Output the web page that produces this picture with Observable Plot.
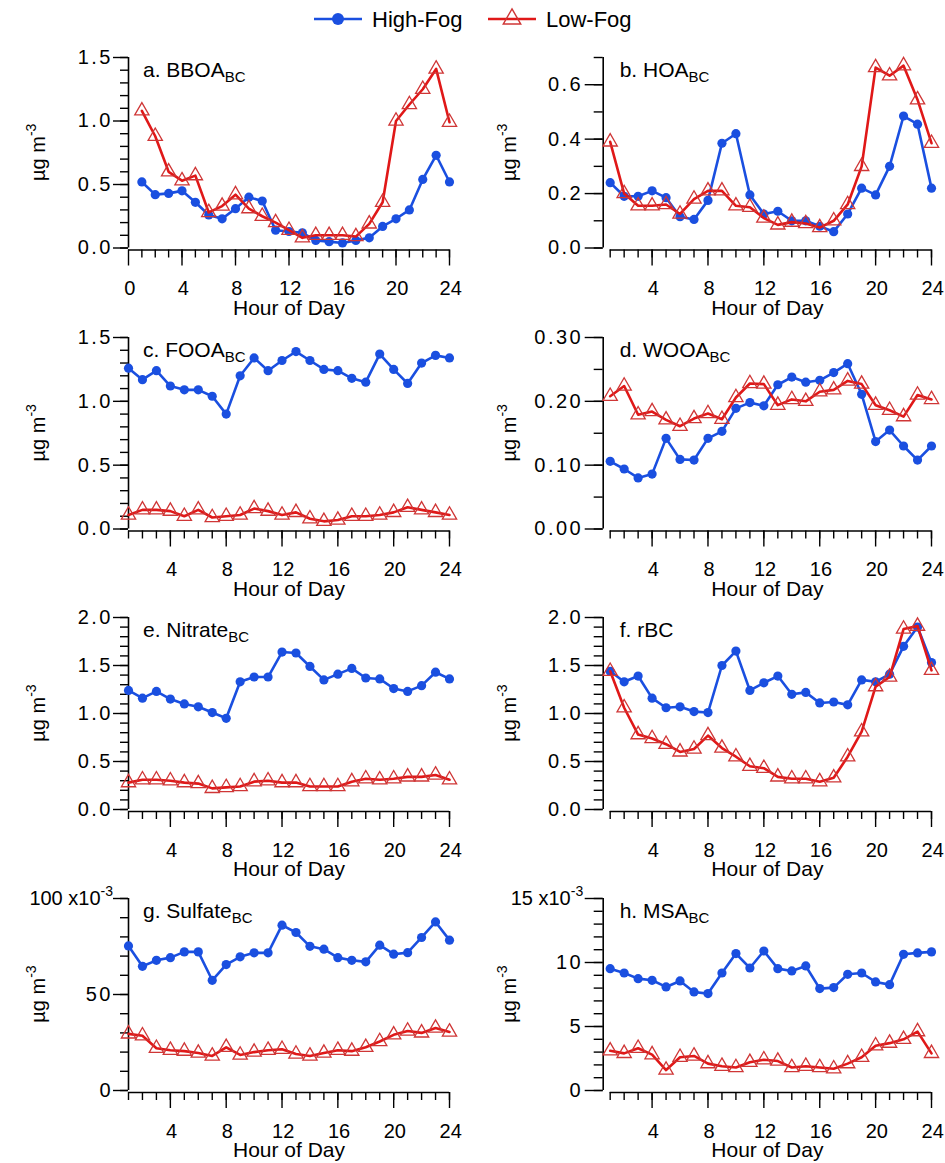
<!DOCTYPE html>
<html>
<head>
<meta charset="utf-8">
<script src="https://cdn.jsdelivr.net/npm/d3@7"></script>
<script src="https://cdn.jsdelivr.net/npm/@observablehq/plot@0.6"></script>
<style>
  body { margin: 0; background: #fff; font-family: "Liberation Sans", Arial, Helvetica, sans-serif; }
  #wrap { position: relative; width: 945px; height: 1163px; overflow: hidden; }
  #legend { position: absolute; left: 0; top: 0; }
  .panel { position: absolute; }
</style>
</head>
<body>
<div id="wrap"><div id="legend"></div></div>
<script>
// ---------------- data ----------------
const hours = [1,2,3,4,5,6,7,8,9,10,11,12,13,14,15,16,17,18,19,20,21,22,23,24];
const seriesNames = ["High-Fog", "Low-Fog"];

const bboaHigh = [0.52,0.42,0.43,0.45,0.36,0.26,0.23,0.31,0.40,0.37,0.14,0.13,0.12,0.06,0.05,0.04,0.06,0.08,0.17,0.23,0.30,0.54,0.73,0.52];
const bboaLow  = [1.08,0.88,0.60,0.53,0.57,0.28,0.33,0.42,0.31,0.25,0.20,0.14,0.08,0.10,0.10,0.10,0.09,0.19,0.36,1.00,1.13,1.25,1.41,0.99];

const hoaHigh = [0.24,0.19,0.19,0.21,0.185,0.115,0.105,0.175,0.385,0.42,0.195,0.125,0.135,0.10,0.10,0.08,0.06,0.125,0.22,0.195,0.30,0.485,0.455,0.22];
const hoaLow  = [0.39,0.20,0.155,0.155,0.16,0.125,0.18,0.21,0.21,0.155,0.15,0.11,0.085,0.095,0.09,0.075,0.10,0.16,0.30,0.663,0.633,0.67,0.545,0.385];

const fooaHigh = [1.26,1.17,1.24,1.12,1.09,1.09,1.04,0.90,1.20,1.34,1.24,1.32,1.39,1.32,1.25,1.24,1.18,1.15,1.37,1.25,1.14,1.30,1.36,1.34];
const fooaLow  = [0.11,0.15,0.15,0.14,0.10,0.15,0.09,0.10,0.11,0.16,0.14,0.11,0.13,0.08,0.06,0.07,0.10,0.10,0.11,0.13,0.17,0.15,0.13,0.11];

const wooaHigh = [0.106,0.094,0.080,0.086,0.142,0.109,0.108,0.142,0.153,0.189,0.198,0.193,0.226,0.238,0.230,0.233,0.245,0.259,0.211,0.137,0.155,0.130,0.108,0.130];
const wooaLow  = [0.208,0.224,0.179,0.184,0.171,0.161,0.173,0.181,0.172,0.206,0.228,0.227,0.194,0.203,0.200,0.215,0.218,0.232,0.227,0.194,0.186,0.176,0.210,0.203];

const nitrateHigh = [1.24,1.16,1.23,1.15,1.10,1.07,1.01,0.95,1.33,1.38,1.38,1.64,1.63,1.49,1.35,1.41,1.47,1.37,1.36,1.26,1.23,1.29,1.43,1.36];
const nitrateLow  = [0.28,0.31,0.31,0.30,0.28,0.27,0.22,0.23,0.24,0.29,0.30,0.28,0.28,0.24,0.24,0.24,0.29,0.32,0.31,0.32,0.34,0.34,0.36,0.31];

const rbcHigh = [1.44,1.33,1.39,1.16,1.06,1.07,1.02,1.01,1.50,1.65,1.24,1.32,1.39,1.20,1.22,1.11,1.12,1.09,1.35,1.33,1.41,1.70,1.90,1.53];
const rbcLow  = [1.44,1.06,0.78,0.74,0.68,0.60,0.63,0.77,0.64,0.55,0.45,0.43,0.34,0.32,0.32,0.29,0.33,0.55,0.81,1.28,1.38,1.88,1.91,1.45];

// sulfate and MSA in units of 10^-3 µg m^-3
const sulfateHigh = [75.3,64.7,67.8,69.2,72.2,72.2,57.4,65.6,69.6,71.7,71.7,86.1,82.3,75.1,73.6,69.2,67.8,67.0,75.7,71.0,71.8,79.7,87.8,78.3];
const sulfateLow  = [29.5,28.5,22.0,21.0,20.5,19.5,18.0,22.5,18.5,20.0,21.0,21.5,19.0,18.0,19.5,21.0,20.5,22.5,25.5,29.0,31.0,30.0,32.5,30.5];

const msaHigh = [9.52,9.18,8.74,8.61,8.09,8.56,7.70,7.57,9.18,10.70,9.57,10.90,9.52,9.34,9.73,7.96,8.04,9.08,9.18,8.48,8.27,10.64,10.75,10.83];
const msaLow  = [3.1,2.9,3.3,2.8,1.6,2.6,2.7,2.1,1.9,1.8,2.2,2.4,2.3,1.8,1.9,1.8,1.7,2.1,2.6,3.5,3.7,4.0,4.6,2.9];

// tick labels
const xMajorA = [0,4,8,12,16,20,24];
const xMajor  = [4,8,12,16,20,24];
const xMinor  = hours;
const yMajor15 = [0,0.5,1.0,1.5];
const yMajor07 = [0,0.2,0.4,0.6];
const yMajor03 = [0,0.10,0.20,0.30];
const yMajor20 = [0,0.5,1.0,1.5,2.0];
const yMajor100 = [0,50,100];
const yMajor15e = [0,5,10,15];

// ---------------- styling ----------------
const font = '"Liberation Sans", Arial, Helvetica, sans-serif';
const blue = "#1a4fe0";
const red = "#e01818";
const triStroke = "#cf3636";
const tickSpacing = 2.5;

function range(a, b, s) { const out = []; for (let v = a; v <= b + 1e-9; v += s) out.push(+v.toFixed(6)); return out; }

const panels = [
  {row:0, col:0, title:"a. BBOA", sub:"BC", high:bboaHigh, low:bboaLow, xDomain:[0,24], xStart:0, xMaj:xMajorA, yDomain:[0,1.5], yMaj:yMajor15, yMin:range(0,1.5,0.1), fmt:d3.format(".1f")},
  {row:0, col:1, title:"b. HOA", sub:"BC", high:hoaHigh, low:hoaLow, xDomain:[0.5,24], xStart:1, xMaj:xMajor, yDomain:[0,0.7], yMaj:yMajor07, yMin:range(0,0.7,0.1), fmt:d3.format(".1f")},
  {row:1, col:0, title:"c. FOOA", sub:"BC", high:fooaHigh, low:fooaLow, xDomain:[1,24], xStart:1, xMaj:xMajor, yDomain:[0,1.5], yMaj:yMajor15, yMin:range(0,1.5,0.1), fmt:d3.format(".1f")},
  {row:1, col:1, title:"d. WOOA", sub:"BC", high:wooaHigh, low:wooaLow, xDomain:[0.5,24], xStart:1, xMaj:xMajor, yDomain:[0,0.3], yMaj:yMajor03, yMin:range(0,0.3,0.05), fmt:d3.format(".2f")},
  {row:2, col:0, title:"e. Nitrate", sub:"BC", high:nitrateHigh, low:nitrateLow, xDomain:[1,24], xStart:1, xMaj:xMajor, yDomain:[0,2.0], yMaj:yMajor20, yMin:range(0,2.0,0.1), fmt:d3.format(".1f")},
  {row:2, col:1, title:"f. rBC", sub:"", high:rbcHigh, low:rbcLow, xDomain:[0.5,24], xStart:1, xMaj:xMajor, yDomain:[0,2.0], yMaj:yMajor20, yMin:range(0,2.0,0.1), fmt:d3.format(".1f")},
  {row:3, col:0, title:"g. Sulfate", sub:"BC", high:sulfateHigh, low:sulfateLow, xDomain:[1,24], xStart:1, xMaj:xMajor, yDomain:[0,100], yMaj:yMajor100, yMin:range(0,100,10), fmt:d => d === 100 ? "100 x10" : String(d), sci:"100 x10"},
  {row:3, col:1, title:"h. MSA", sub:"BC", high:msaHigh, low:msaLow, xDomain:[0.5,24], xStart:1, xMaj:xMajor, yDomain:[0,15], yMaj:yMajor15e, yMin:range(0,15,1), fmt:d => d === 15 ? "15 x10" : String(d), sci:"15 x10"}
];

const mTops = [17,17,17,18];
const mBots = [72.5,71.5,71,70];

const wrap = document.getElementById("wrap");

for (const p of panels) {
  const right = p.col === 1;
  const width = right ? 473 : 472;
  const height = 280;
  const marginLeft = right ? 130.7 : 128;
  const marginRight = right ? 14 : 23;
  const marginTop = mTops[p.row];
  const marginBottom = mBots[p.row];
  const rows = hours.map((h, i) => ({hour: h, high: p.high[i], low: p.low[i]}));
  const majT = right ? 18 : 15;
  const minT = right ? 9 : 8;

  const svg = Plot.plot({
    width, height, marginLeft, marginRight, marginTop, marginBottom,
    x: {domain: p.xDomain},
    y: {domain: p.yDomain},
    style: {fontFamily: font, fontSize: "20px", color: "#000", background: "transparent", overflow: "visible"},
    marks: [
      Plot.ruleX([p.xDomain[0]], {y1: p.yDomain[0], y2: p.yDomain[1], stroke: "#000", strokeWidth: 1.6}),
      Plot.ruleY([0], {x1: p.xStart, x2: 24, stroke: "#000", strokeWidth: 1.6, dy: 2}),
      Plot.axisY({ticks: p.yMin, tickSize: minT, tickFormat: () => "", strokeWidth: 1.4, label: null}),
      Plot.axisY({ticks: p.yMaj, tickSize: majT, tickPadding: right ? 2 : 0.5, tickFormat: p.fmt, strokeWidth: 1.4, label: null, ariaLabel: "y-major"}),
      Plot.axisX({ticks: xMinor, tickSize: 8, tickFormat: () => "", strokeWidth: 1.4, label: null, dy: 2}),
      Plot.axisX({ticks: p.xMaj, tickSize: 16, tickFormat: () => "", strokeWidth: 1.4, label: null, dy: 2}),
      Plot.text(p.xMaj, {x: d => d, frameAnchor: "bottom", lineAnchor: "middle", dy: 41, dx: 1.2, text: d => String(d), ariaLabel: "x-tick-label"}),
      Plot.text(["Hour of Day"], {frameAnchor: "bottom", lineAnchor: "middle", dy: 60, fontSize: 21, text: d => d}),
      Plot.line(rows, {x: "hour", y: "high", stroke: blue, strokeWidth: 2.6}),
      Plot.dot(rows, {x: "hour", y: "high", fill: blue, r: 4.6}),
      Plot.line(rows, {x: "hour", y: "low", stroke: red, strokeWidth: 2.6}),
      Plot.dot(rows, {x: "hour", y: "low", symbol: "triangle", fill: "none", stroke: triStroke, strokeWidth: 1.3, r: 5.3})
    ]
  });

  const s = d3.select(svg);
  // wider spacing for numeric tick labels, as in the original figure
  s.selectAll('g[aria-label="x-tick-label"] text, g[aria-label="y-major"] text, g[aria-label="y-axis tick label"] text')
    .style("letter-spacing", tickSpacing + "px");
  s.selectAll("g").filter(function() { const a = this.getAttribute("aria-label") || ""; return a.includes("tick label") && a.includes("y"); })
    .selectAll("text").style("letter-spacing", tickSpacing + "px");

  // panel title with subscript
  const t = s.append("text")
    .attr("x", marginLeft + (right ? 17 : 15))
    .attr("y", marginTop + 20)
    .attr("text-anchor", "start")
    .attr("font-family", font).attr("font-size", 21).attr("fill", "#000");
  t.append("tspan").text(p.title);
  if (p.sub) t.append("tspan").attr("font-size", 15).attr("dy", 5).text(p.sub);

  // y label µg m^-3
  const cy = (marginTop + (height - marginBottom)) / 2;
  const yl = s.append("text")
    .attr("transform", `translate(${right ? 44 : 45},${cy}) rotate(-90)`)
    .attr("text-anchor", "middle")
    .attr("font-family", font).attr("font-size", 20).attr("fill", "#000");
  yl.append("tspan").text("\u00b5g m");
  yl.append("tspan").attr("font-size", 14).attr("dy", -9).text("-3");

  // superscript on the scale-factor tick label
  if (p.sci) {
    s.selectAll("text").filter(function() { return this.textContent === p.sci; })
      .style("letter-spacing", "0px")
      .append("tspan").attr("font-size", 14).attr("dy", -9).text("-3");
  }

  svg.classList.add("panel");
  svg.style.left = (right ? 472 : 0) + "px";
  svg.style.top = (40 + p.row * 280) + "px";
  wrap.appendChild(svg);
}

// ---------------- legend ----------------
const lg = d3.select("#legend").append("svg").attr("width", 945).attr("height", 40);
const ly = 19;
lg.append("line").attr("x1", 314).attr("x2", 362).attr("y1", ly).attr("y2", ly).attr("stroke", blue).attr("stroke-width", 2.6);
lg.append("circle").attr("cx", 338).attr("cy", ly).attr("r", 6).attr("fill", blue);
lg.append("text").attr("x", 372).attr("y", ly + 8).attr("font-family", font).attr("font-size", 22).text(seriesNames[0]);
lg.append("line").attr("x1", 488).attr("x2", 536).attr("y1", ly).attr("y2", ly).attr("stroke", red).attr("stroke-width", 2.6);
lg.append("path").attr("d", d3.symbol(d3.symbolTriangle, Math.PI * 6.5 * 6.5)()).attr("transform", `translate(512,${ly})`)
  .attr("fill", "none").attr("stroke", triStroke).attr("stroke-width", 1.4);
lg.append("text").attr("x", 546).attr("y", ly + 8).attr("font-family", font).attr("font-size", 22).text(seriesNames[1]);
</script>
</body>
</html>
